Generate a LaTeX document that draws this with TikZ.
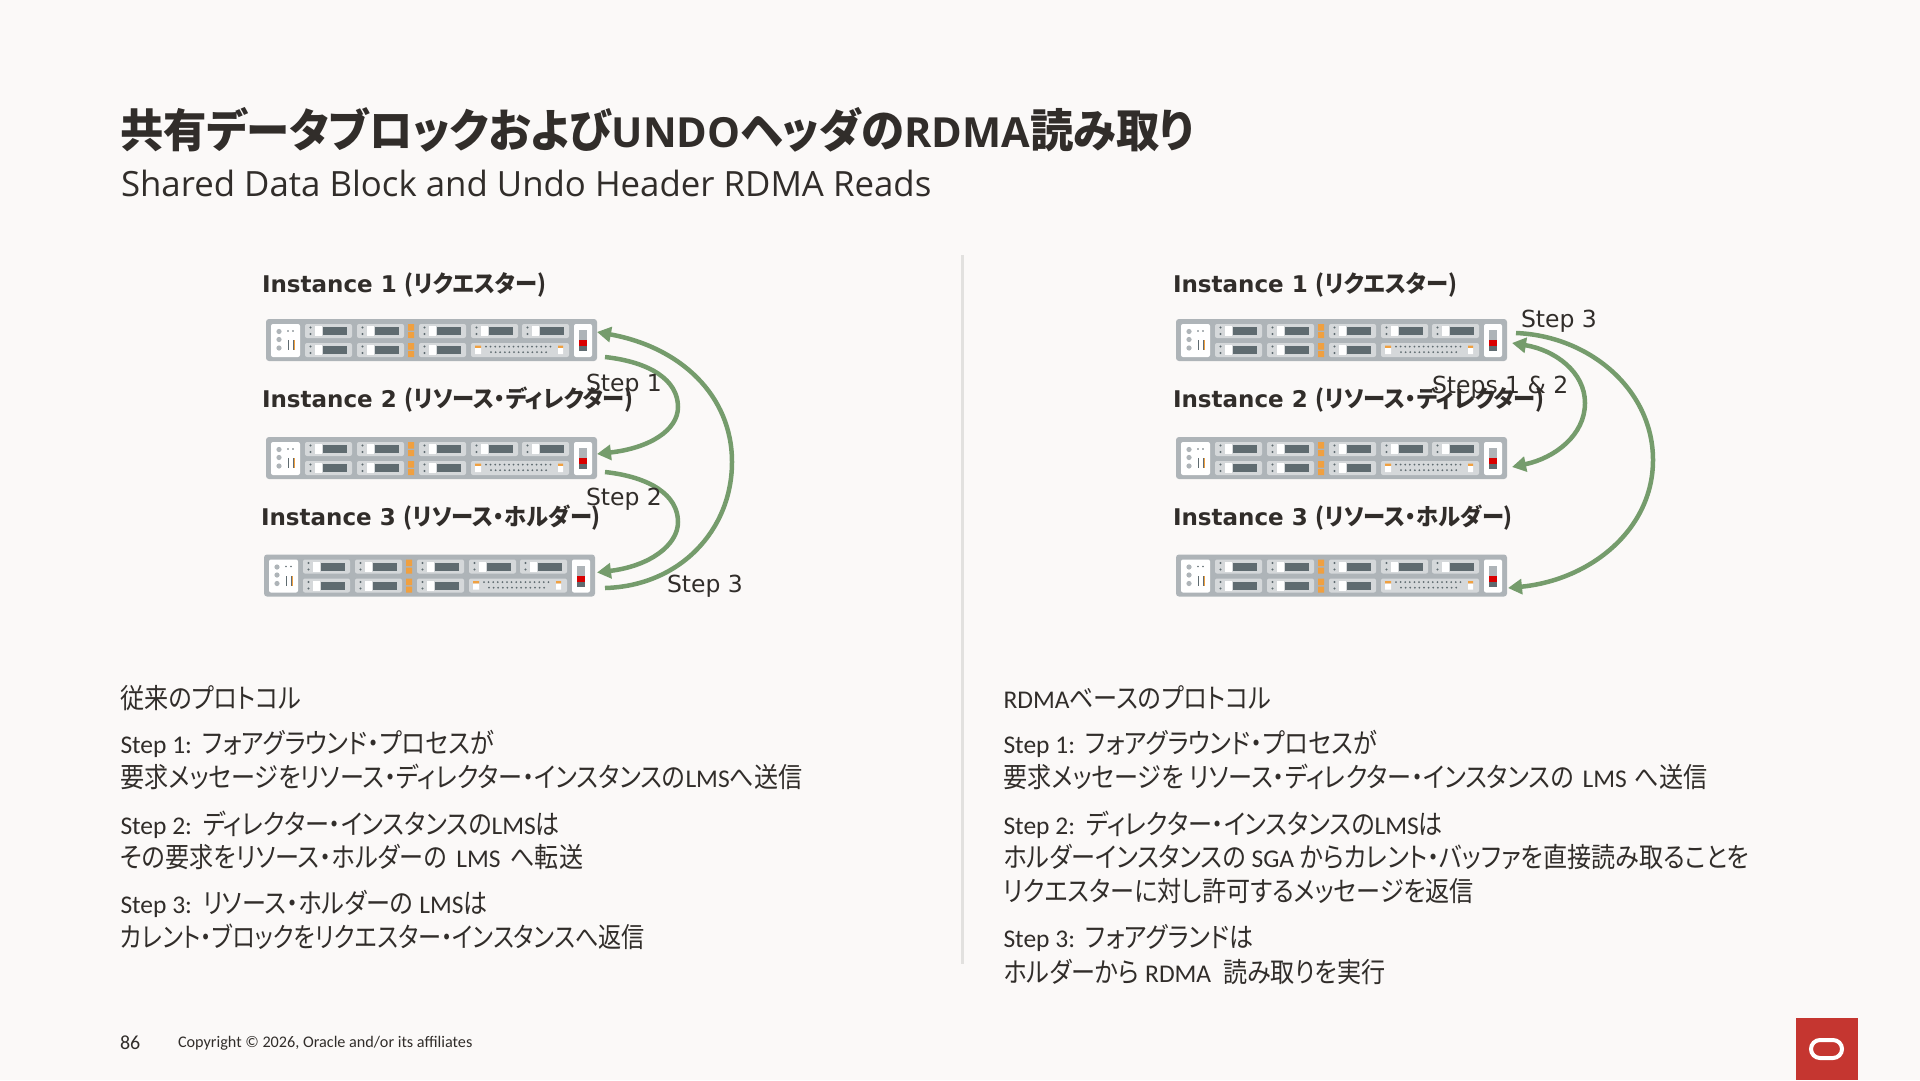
\documentclass[tikz,border=0pt]{standalone}
\usepackage{fontspec}
\usetikzlibrary{arrows.meta}
\setmainfont{Carlito}
\newfontfamily\jpf[RawFeature=+palt,Scale=1.08,FakeStretch=0.875]{Noto Sans CJK JP}
\newfontfamily\jpn[RawFeature=+palt,Scale=1.08,FakeStretch=0.84]{Noto Sans CJK JP}
\newfontfamily\jpt[RawFeature=+palt,Scale=1.1,FakeStretch=0.95]{Noto Sans CJK JP}
\newfontfamily\jpi[RawFeature=+palt,Scale=1.02,FakeStretch=0.95]{Noto Sans CJK JP}
\newfontfamily\opn{Open Sans}
\newfontfamily\djv{DejaVu Sans}
\newcommand\J[1]{{\jpf #1}}
\newcommand\Jn[1]{{\jpn #1}}
\newcommand\T[1]{{\jpt\bfseries #1}}
\newcommand\I[1]{{\jpi\bfseries #1}}
\definecolor{bg}{HTML}{FBF9F8}
\definecolor{ink}{HTML}{312D2A}
\definecolor{flowgreen}{HTML}{759C6C}
\definecolor{srvgray}{HTML}{AEB4B8}
\definecolor{baygray}{HTML}{D5D8DA}
\definecolor{baydark}{HTML}{5F6B70}
\definecolor{amber}{HTML}{F0A040}
\definecolor{oraclered}{HTML}{C53630}
\definecolor{rule}{HTML}{E2E1DF}
\newcommand\fs[1]{\fontsize{#1}{#1}\selectfont}
\newcommand\bayunit[2]{%
  \fill[baygray,rounded corners=2pt] (#1,#2) rectangle ++(47,14);
  \fill[baydark] (#1+5.5,#2+3.5) circle (1.1) (#1+5.5,#2+10) circle (1.1);
  \fill[white] (#1+10,#2+2) rectangle ++(7,10);
  \fill[baydark] (#1+18,#2+3) rectangle ++(24,8);
}
\tikzset{
  srvbox/.style={rectangle,fill=srvgray,rounded corners=3pt,minimum width=331pt,minimum height=42pt,inner sep=0pt,outer sep=0pt},
  txt/.style={anchor=base west,inner sep=0pt,outer sep=0pt,text=ink},
  body/.style={txt,font=\fs{25.5}},
  inst/.style={txt,font=\djv\bfseries\fs{23}},
  steplabel/.style={txt,font=\djv\fs{23.5}},
  flow/.style={draw=flowgreen,line width=4.5pt,line cap=butt},
  flowtip/.style={flow,-{Triangle[length=14pt,width=15pt]}},
  flowboth/.style={flow,{Triangle[length=14pt,width=15pt]}-{Triangle[length=14pt,width=15pt]}},
  srvdetail/.pic={
    \fill[white,rounded corners=2pt] (5,5) rectangle (34,38);
    \fill[srvgray] (13,12.5) circle (2.6) (13,20.5) circle (2.6) (13,29) circle (2.6);
    \fill[baydark] (22,12) circle (.9) (27,12) circle (.9);
    \fill[baydark] (21.6,21) rectangle (23,31);
    \fill[baydark] (26.6,21) rectangle (28,31);
    \fill[amber] (28,21) rectangle (28.6,31);
    \bayunit{39}{5}\bayunit{91}{5}\bayunit{153}{5}\bayunit{205}{5}\bayunit{256}{5}
    \bayunit{39}{24}\bayunit{91}{24}\bayunit{153}{24}
    \fill[baygray,rounded corners=2pt] (205,24) rectangle (303,38);
    \fill[amber] (209,26.5) rectangle (215,29) (292,26.5) rectangle (297,29);
    \fill[white] (209,29) rectangle (215,35) (292,29) rectangle (297,35);
    \foreach \k in {0,...,14}{\fill[baydark] (220+\k*4.6,27.6) circle (1);}
    \foreach \k in {0,...,12}{\fill[baydark] (225+\k*4.6,33.2) circle (1);}
    \fill[amber] (142,5) rectangle (148,11.5) (142,13) rectangle (148,19);
    \fill[amber] (142,24) rectangle (148,30.5) (142,32) rectangle (148,38);
    \fill[white,rounded corners=2pt] (308,5) rectangle (326,38);
    \fill[srvgray] (313,11) rectangle (321,21);
    \fill[red!85!black] (313,21) rectangle (321,27);
    \fill[baydark] (313,27) rectangle (321,32);
  }
}
\newcommand\server[3]{\node[srvbox] (#1) at (#2,#3) {}; \pic at (#1.north west) {srvdetail};}
\begin{document}
\begin{tikzpicture}[x=1pt,y=-1pt]
\useasboundingbox (0,0) rectangle (1920,1080);
\fill[bg] (0,0) rectangle (1920,1080);
% heading
\node[txt,font=\opn\bfseries\fs{41.5}] (title) at (120,147) {\T{共有データブロックおよび}UNDO\T{ヘッダの}RDMA\T{読み取り}};
\node[txt,font=\opn\fs{34.8}] (subtitle) at (121,196) {Shared Data Block and Undo Header RDMA Reads};
\draw[rule,line width=3pt] (962,255) -- (962,964);
% left servers
\server{la}{431.5}{340}
\server{lb}{431.5}{458}
\server{lc}{429.5}{575.5}
\node[inst] (lta) at (262,292) {Instance 1 \I{(リクエスター)}};
\node[inst] (ltb) at (262,407) {Instance 2 \I{(リソース・ディレクター)}};
\node[inst] (ltc) at (261,525) {Instance 3 \I{(リソース・ホルダー)}};
\draw[flowtip] ([xshift=8pt,yshift=-17pt]la.east) .. controls (650,362) and (678,380) .. (678,407) .. controls (678,430) and (650,448) .. ([xshift=0pt,yshift=4pt]lb.east);
\draw[flowtip] ([xshift=8pt,yshift=-14pt]lb.east) .. controls (650,477) and (678,495) .. (678,522) .. controls (678,545) and (650,566) .. ([xshift=2pt,yshift=3pt]lc.east);
\draw[flowtip] ([xshift=10pt,yshift=-12.5pt]lc.east) .. controls (680,586) and (732,530) .. (732,462) .. controls (732,395) and (680,347) .. ([yshift=8pt]la.east);
\node[steplabel] (s1) at (586,391) {Step 1};
\node[steplabel] (s2) at (586,505) {Step 2};
\node[steplabel] (s3) at (667,592) {Step 3};
% right servers
\server{ra}{1341.5}{340}
\server{rb}{1341.5}{458}
\server{rc}{1341.5}{575.5}
\node[inst] (rta) at (1173,292) {Instance 1 \I{(リクエスター)}};
\node[inst] (rtb) at (1173,407) {Instance 2 \I{(リソース・ディレクター)}};
\node[inst] (rtc) at (1173,525) {Instance 3 \I{(リソース・ホルダー)}};
\draw[flowboth] ([xshift=5pt,yshift=-3pt]ra.east) .. controls (1555,350) and (1585,372) .. (1585,403) .. controls (1585,435) and (1555,458) .. ([xshift=5pt,yshift=-9pt]rb.east);
\draw[flowtip] ([xshift=9pt,yshift=7pt]ra.east) .. controls (1590,336) and (1653,390) .. (1653,460) .. controls (1653,530) and (1590,580) .. ([xshift=1pt,yshift=-12.5pt]rc.east);
\node[steplabel] (r3) at (1521,327) {Step 3};
\node[steplabel] (r12) at (1432,393) {Steps 1 \& 2};
% left text
\node[body] (h1) at (120.5,708) {\J{従来のプロトコル}};
\node[body] (a1) at (120.5,753) {Step 1:\hspace{3pt} \J{フォアグラウンド・プロセスが}};
\node[body] (a2) at (120.5,787) {\J{要求メッセージをリソース・ディレクター・インスタンスの}LMS\J{へ送信}};
\node[body] (a3) at (120.5,834) {Step 2:\hspace{3pt} \J{ディレクター・インスタンスの}LMS\J{は}};
\node[body] (a4) at (120.5,867) {\J{その要求をリソース・ホルダーの}\hspace{4pt} LMS \hspace{4pt}\J{へ転送}};
\node[body] (a5) at (120.5,913) {Step 3:\hspace{3pt} \J{リソース・ホルダーの} LMS\J{は}};
\node[body] (a6) at (120.5,947) {\Jn{カレント・ブロックをリクエスター・インスタンスへ返信}};
% right text
\node[body] (h2) at (1003.5,708) {RDMA\J{ベースのプロトコル}};
\node[body] (b1) at (1003.5,753) {Step 1:\hspace{3pt} \J{フォアグラウンド・プロセスが}};
\node[body] (b2) at (1003.5,787) {\J{要求メッセージを リソース・ディレクター・インスタンスの}\hspace{3pt} LMS \hspace{2pt}\J{へ送信}};
\node[body] (b3) at (1003.5,834) {Step 2:\hspace{3pt} \J{ディレクター・インスタンスの}LMS\J{は}};
\node[body] (b4) at (1003.5,867) {\J{ホルダーインスタンスの} SGA \J{からカレント・バッファを直接読み取ることを}};
\node[body] (b5) at (1003.5,901) {\J{リクエスターに対し許可するメッセージを返信}};
\node[body] (b6) at (1003.5,947) {Step 3:\hspace{3pt} \J{フォアグランドは}};
\node[body] (b7) at (1003.5,982) {\J{ホルダーから} RDMA \hspace{6pt}\J{読み取りを実行}};
% footer
\node[txt,font=\fs{20}] (pg) at (120,1049) {86};
\node[txt,font=\fs{16.2}] (copy) at (178,1047) {Copyright © 2026, Oracle and/or its affiliates};
\fill[oraclered] (1796,1018) rectangle (1858,1080);
\draw[white,line width=4pt,rounded corners=9pt] (1811,1040) rectangle (1842,1058);
\end{tikzpicture}
\end{document}
